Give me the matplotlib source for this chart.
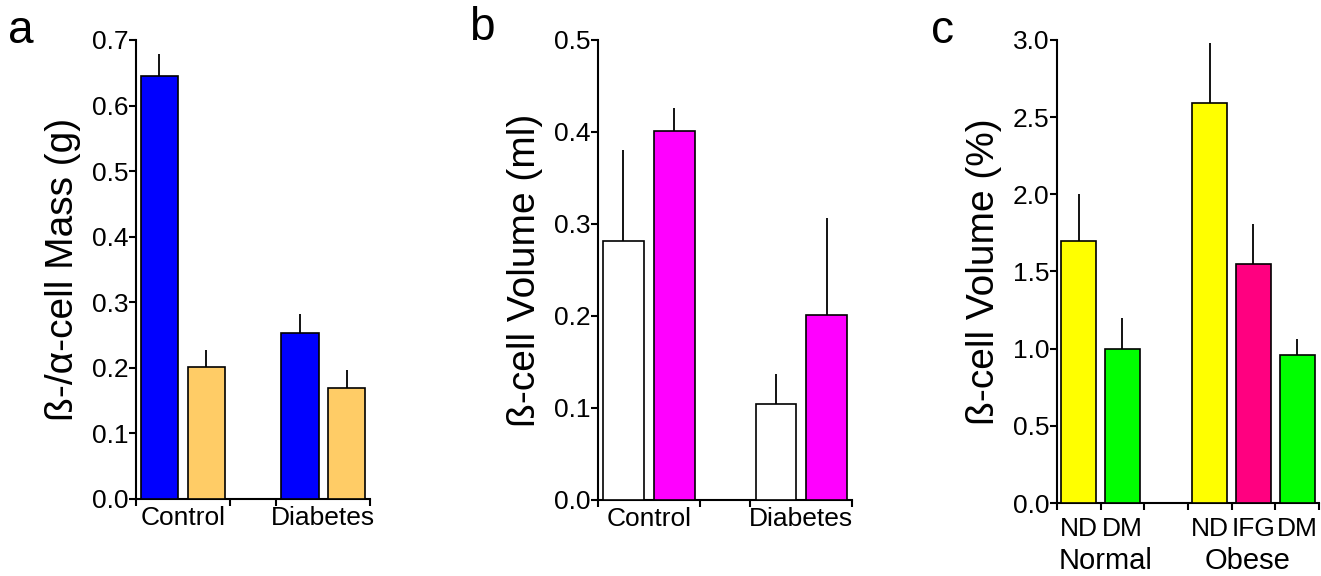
import matplotlib.pyplot as plt

plt.rcParams['font.family'] = ['Liberation Sans', 'DejaVu Sans']

# panel a: beta / alpha cell mass
a_groups = ['Control', 'Diabetes']
a_beta = [0.645, 0.253]
a_beta_sem = [0.034, 0.029]
a_alpha = [0.201, 0.169]
a_alpha_sem = [0.026, 0.028]

# panel b: beta cell volume (ml)
b_groups = ['Control', 'Diabetes']
b_white = [0.282, 0.104]
b_white_sem = [0.098, 0.033]
b_pink = [0.401, 0.201]
b_pink_sem = [0.025, 0.105]

# panel c: beta cell volume (%)
c_cats = ['ND', 'DM', 'ND', 'IFG', 'DM']
c_groups = ['Normal', 'Obese']
c_vals = [1.70, 1.00, 2.59, 1.55, 0.96]
c_sem = [0.30, 0.20, 0.39, 0.26, 0.10]
c_colors = ['#FFFF00', '#00FF00', '#FFFF00', '#FF0080', '#00FF00']

TICK = 19
LAB = 28

fig = plt.figure(figsize=(13.21, 5.76), dpi=100)
ax_a = fig.add_axes([0.1030, 0.1337, 0.1771, 0.7969])
ax_b = fig.add_axes([0.4527, 0.1320, 0.1923, 0.7986])
ax_c = fig.add_axes([0.8001, 0.1267, 0.1983, 0.8039])


def style(ax, xpad=5):
    for s in ['top', 'right']:
        ax.spines[s].set_visible(False)
    for s in ['left', 'bottom']:
        ax.spines[s].set_linewidth(1.5)
    ax.tick_params(axis='both', which='major', direction='out', length=5,
                   width=1.5, labelsize=TICK, pad=0.5)
    ax.tick_params(axis='x', which='minor', length=0, labelsize=TICK, pad=xpad)


def bars(ax, x, vals, sem, colors):
    ax.bar(x, vals, width=0.8, color=colors, edgecolor='black',
           linewidth=1.2, zorder=3)
    ax.errorbar(x, vals, yerr=[[0] * len(vals), sem], fmt='none',
                ecolor='black', elinewidth=1.3, capsize=0, zorder=2)


# --- a ---
bars(ax_a, [0.5, 3.5], a_beta, a_beta_sem, '#0000FF')
bars(ax_a, [1.5, 4.5], a_alpha, a_alpha_sem, '#FFCC66')
ax_a.set_xlim(0, 5)
ax_a.set_ylim(0, 0.7)
ax_a.set_yticks([0.0, 0.1, 0.2, 0.3, 0.4, 0.5, 0.6, 0.7])
ax_a.set_yticklabels(['%.1f' % v for v in ax_a.get_yticks()])
ax_a.set_xticks([0, 2, 3, 5])
ax_a.set_xticklabels([])
ax_a.set_xticks([1, 4], minor=True)
ax_a.set_xticklabels(a_groups, minor=True)
ax_a.set_ylabel('ß-/α-cell Mass (g)', fontsize=LAB, labelpad=8)
style(ax_a)

# --- b ---
bars(ax_b, [0.5, 3.5], b_white, b_white_sem, 'white')
bars(ax_b, [1.5, 4.5], b_pink, b_pink_sem, '#FF00FF')
ax_b.set_xlim(0, 5)
ax_b.set_ylim(0, 0.5)
ax_b.set_yticks([0.0, 0.1, 0.2, 0.3, 0.4, 0.5])
ax_b.set_yticklabels(['%.1f' % v for v in ax_b.get_yticks()])
ax_b.set_xticks([0, 2, 3, 5])
ax_b.set_xticklabels([])
ax_b.set_xticks([1, 4], minor=True)
ax_b.set_xticklabels(b_groups, minor=True)
ax_b.set_ylabel('ß-cell Volume (ml)', fontsize=LAB, labelpad=8)
style(ax_b)

# --- c ---
c_x = [0.5, 1.5, 3.5, 4.5, 5.5]
bars(ax_c, c_x, c_vals, c_sem, c_colors)
ax_c.set_xlim(0, 6)
ax_c.set_ylim(0, 3.0)
ax_c.set_yticks([0.0, 0.5, 1.0, 1.5, 2.0, 2.5, 3.0])
ax_c.set_yticklabels(['%.1f' % v for v in ax_c.get_yticks()])
ax_c.set_xticks([0, 1, 2, 3, 4, 5, 6])
ax_c.set_xticklabels([])
ax_c.set_xticks(c_x, minor=True)
ax_c.set_xticklabels(c_cats, minor=True)
ax_c.set_ylabel('ß-cell Volume (%)', fontsize=LAB, labelpad=8)
style(ax_c, xpad=10)
ax_c.text(1.12, -0.155, c_groups[0], transform=ax_c.get_xaxis_transform(),
          ha='center', va='bottom', fontsize=21)
ax_c.text(4.37, -0.155, c_groups[1], transform=ax_c.get_xaxis_transform(),
          ha='center', va='bottom', fontsize=21)

fig.text(0.006, 0.985, 'a', fontsize=33, va='top')
fig.text(0.355, 0.99, 'b', fontsize=33, va='top')
fig.text(0.705, 0.985, 'c', fontsize=33, va='top')

fig.savefig('out.png', dpi=100)
